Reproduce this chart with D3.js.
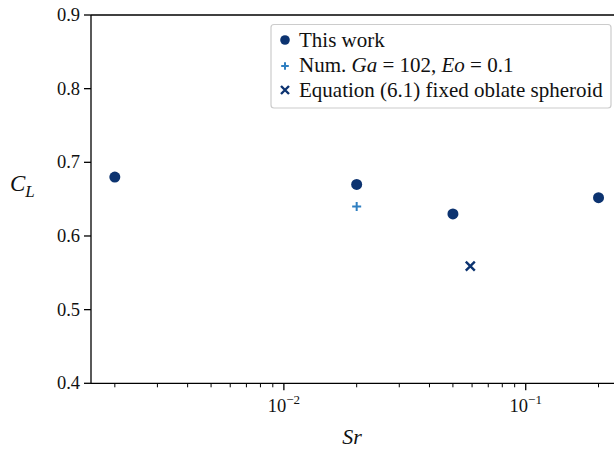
<!DOCTYPE html>
<html><head><meta charset="utf-8">
<script src="https://cdn.jsdelivr.net/npm/d3@7"></script>
</head>
<body style="margin:0;background:#fff"><svg id="c" width="614" height="451"></svg>
<script>
// data
const thisWorkSr = [0.002, 0.02, 0.05, 0.2];
const thisWorkCL = [0.68, 0.67, 0.63, 0.652];
const numSr = [0.02];
const numCL = [0.64];
const eqSr = [0.059];
const eqCL = [0.559];
const yTicks = [0.4, 0.5, 0.6, 0.7, 0.8, 0.9];
const xMajor = [0.01, 0.1];
const xMajorExp = ["\u22122", "\u22121"];
const legendLabels = ["This work", "Num. Ga = 102, Eo = 0.1", "Equation (6.1) fixed oblate spheroid"];

const FONT = '"Liberation Serif"';
const navy = "#0c3370", light = "#2f7fc1";
const svg = d3.select("#c");
const L = 91, R = 614, T = 15, B = 383.3;
const x = d3.scaleLog().domain([Math.pow(10, -2.7975), Math.pow(10, -0.635)]).range([L, R]);
const y = d3.scaleLinear().domain([0.4, 0.9]).range([B, T]);
const txt = (sel) => { sel.style("font-family", FONT).attr("fill", "#111"); };

// minor ticks
const minor = [];
for (let e = -3; e <= -1; e++) for (let m = 2; m <= 9; m++) {
  const v = m * Math.pow(10, e);
  if (v >= x.domain()[0] && v <= x.domain()[1]) minor.push(v);
}
const g = svg.append("g");
g.selectAll(".mi").data(minor).join("line")
  .attr("x1", d => x(d)).attr("x2", d => x(d)).attr("y1", B).attr("y2", B + 4)
  .attr("stroke", "#000").attr("stroke-width", 1);
g.selectAll(".ma").data(xMajor).join("line")
  .attr("x1", d => x(d)).attr("x2", d => x(d)).attr("y1", B).attr("y2", B + 7)
  .attr("stroke", "#000").attr("stroke-width", 1.3);
xMajor.forEach((d, i) => {
  const t = g.append("text").attr("x", x(d)).attr("y", B + 29).attr("text-anchor", "middle")
    .attr("font-size", 18.5).call(txt);
  t.append("tspan").text("10");
  t.append("tspan").attr("dy", -8).attr("font-size", 13).text(xMajorExp[i]);
});
// y ticks
g.selectAll(".yt").data(yTicks).join("line")
  .attr("x1", L - 7).attr("x2", L).attr("y1", d => y(d)).attr("y2", d => y(d))
  .attr("stroke", "#000").attr("stroke-width", 1.3);
g.selectAll(".yl").data(yTicks).join("text")
  .attr("x", L - 11).attr("y", d => y(d) + 6).attr("text-anchor", "end")
  .attr("font-size", 18.5).call(txt).text(d => d.toFixed(1));

// spines
svg.append("line").attr("x1", L).attr("x2", R).attr("y1", B).attr("y2", B).attr("stroke", "#000").attr("stroke-width", 1.3);
svg.append("line").attr("x1", L).attr("x2", R).attr("y1", T).attr("y2", T).attr("stroke", "#000").attr("stroke-width", 1.3);
svg.append("line").attr("x1", L).attr("x2", L).attr("y1", T).attr("y2", B).attr("stroke", "#000").attr("stroke-width", 1.3);

// axis labels
svg.append("text").attr("x", 352).attr("y", 444).attr("text-anchor", "middle")
  .attr("font-size", 22).attr("font-style", "italic").call(txt).text("Sr");
const yl = svg.append("text").attr("x", 10).attr("y", 191)
  .attr("font-size", 23).attr("font-style", "italic").call(txt);
yl.append("tspan").text("C");
yl.append("tspan").attr("dy", 6).attr("font-size", 17).text("L");

// markers
const plus = (sel, cx, cy, s, col) => sel.append("path")
  .attr("d", `M${cx - s},${cy}H${cx + s}M${cx},${cy - s}V${cy + s}`).attr("stroke", col).attr("stroke-width", 2).attr("fill", "none");
const cross = (sel, cx, cy, s, col) => sel.append("path")
  .attr("d", `M${cx - s},${cy - s}L${cx + s},${cy + s}M${cx - s},${cy + s}L${cx + s},${cy - s}`).attr("stroke", col).attr("stroke-width", 2.4).attr("fill", "none");

const pts = svg.append("g");
pts.selectAll("circle").data(thisWorkSr.map((s, i) => [s, thisWorkCL[i]])).join("circle")
  .attr("cx", d => x(d[0])).attr("cy", d => y(d[1])).attr("r", 5.5).attr("fill", navy);
numSr.forEach((s, i) => plus(pts, x(s), y(numCL[i]), 4.5, light));
eqSr.forEach((s, i) => cross(pts, x(s), y(eqCL[i]), 4.5, navy));

// legend
const lg = svg.append("g");
lg.append("rect").attr("x", 271).attr("y", 24.5).attr("width", 340).attr("height", 83.5).attr("rx", 3)
  .attr("fill", "#fff").attr("stroke", "#ccc").attr("stroke-width", 1.2);
const rows = [40, 65, 90];
lg.append("circle").attr("cx", 285).attr("cy", rows[0]).attr("r", 4.8).attr("fill", navy);
plus(lg, 285, rows[1] + 1, 3.8, light);
cross(lg, 285, rows[2], 4, navy);
lg.append("text").attr("x", 299).attr("y", rows[0] + 6.5).attr("font-size", 21).call(txt).text(legendLabels[0]);
const t2 = lg.append("text").attr("x", 299).attr("y", rows[1] + 6.5).attr("font-size", 21).call(txt);
t2.append("tspan").text("Num. ");
t2.append("tspan").attr("font-style", "italic").text("Ga");
t2.append("tspan").text(" = 102, ");
t2.append("tspan").attr("font-style", "italic").text("Eo");
t2.append("tspan").text(" = 0.1");
lg.append("text").attr("x", 299).attr("y", rows[2] + 6.5).attr("font-size", 21).call(txt).text(legendLabels[2]);
</script></body></html>
